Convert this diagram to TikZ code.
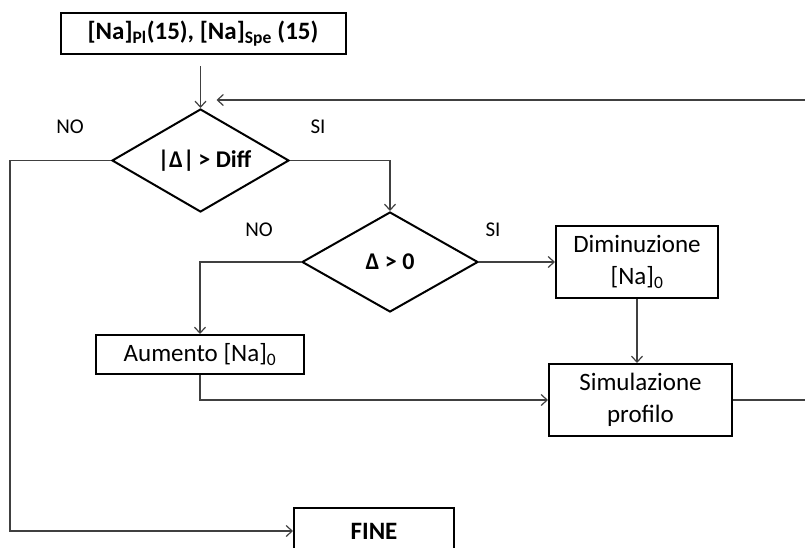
\documentclass[tikz,border=0pt]{standalone}
\usepackage{fontspec}
\setmainfont{Carlito}
\usetikzlibrary{shapes.geometric,arrows.meta,calc}
\begin{document}
\begin{tikzpicture}[x=1pt,y=-1pt,
  box/.style={draw=black, line width=2pt, rectangle, inner sep=0pt, align=center, font=\fontsize{25}{32}\selectfont},
  bbox/.style={box, font=\fontsize{25}{30}\selectfont\bfseries},
  dec/.style={draw=black, line width=2pt, diamond, aspect=1.72, inner sep=0pt, font=\fontsize{24}{29}\selectfont\bfseries},
  conn/.style={draw=black!75, line width=1.2pt, -{Straight Barb[length=6pt,width=11pt]}},
  plain/.style={draw=black!75, line width=1.2pt},
  lab/.style={font=\fontsize{21}{25}\selectfont, inner sep=0pt}]
\useasboundingbox (0,0) rectangle (805,547);
% nodes
\node[bbox, minimum width=285pt, minimum height=41pt] (top) at (203,33.5) {[Na]\textsubscript{Pl}(15), [Na]\textsubscript{Spe} (15)};
\node[dec, minimum width=177pt, minimum height=103pt] (d1) at (200.5,160.5) {\hspace{8pt}|Δ|\,> Diff};
\node[dec, minimum width=176pt, minimum height=100pt] (d2) at (390,262) {Δ > 0};
\node[box, minimum width=162pt, minimum height=72pt] (dim) at (637,262) {Diminuzione\\{}[Na]\textsubscript{0}};
\node[box, minimum width=183pt, minimum height=72pt] (sim) at (640.5,400) {Simulazione\\profilo};
\node[box, minimum width=208pt, minimum height=39pt] (aum) at (200,354.5) {Aumento [Na]\textsubscript{0}};
\node[bbox, minimum width=160pt, minimum height=46pt] (fine) at (374,531) {FINE};
% labels
\node[lab] (no1) at (70,127) {NO};
\node[lab] (si1) at (318,127) {SI};
\node[lab] (no2) at (259,230) {NO};
\node[lab] (si2) at (493,230) {SI};
% connectors
\coordinate (fbR) at (805,100);
\coordinate (simR) at (805,400);
\draw[conn, shorten <=11pt] (d1.north |- top.south) -- (d1.north);
\draw[conn] (fbR) -- ($(d1.north |- fbR)+(16,0)$);
\draw[conn] (d1.west) -- ++(-101,0) |- (fine.west);
\draw[conn] (d1.east) -| (d2.north);
\draw[conn] (d2.west) -| (aum.north);
\draw[conn] (d2.east) -- (dim.west);
\draw[conn] (dim.south) -- (dim.south |- sim.north);
\draw[conn] (aum.south) |- (sim.west);
\draw[plain] (sim.east) -- (simR);
\end{tikzpicture}
\end{document}
